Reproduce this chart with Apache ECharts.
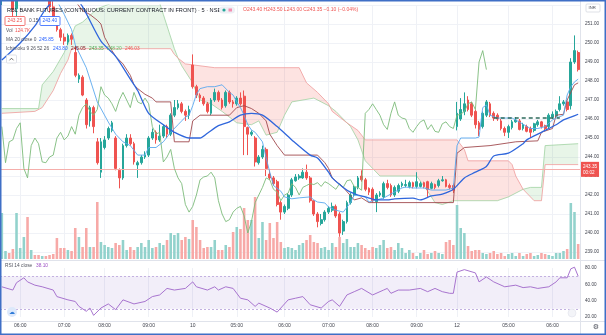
<!DOCTYPE html>
<html><head><meta charset="utf-8">
<script src="https://cdn.jsdelivr.net/npm/echarts@6/dist/echarts.min.js"></script>
<style>html,body{margin:0;padding:0;background:#fff}#c{width:606px;height:335px}</style>
</head><body><div id="c"></div>
<script>
// ---------- data ----------
const opens = [252.6,253.0,253.4,252.6,251.8,252.4,253.0,253.6,253.4,253.8,
253.5,253.0,253.2,252.5,251.9,251.2,250.7,250.3,250.05,250.4,
249.5,248.1,248.2,247.0,245.9,246.6,244.8,243.2,244.5,245.0,
245.4,245.0,243.3,242.9,244.6,245.0,244.7,243.58,243.7,244.0,
244.1,245.0,245.3,244.9,245.1,245.6,245.2,246.2,246.6,246.8,
246.4,246.2,248.84,247.7,247.26,247.1,246.8,246.3,247.0,247.4,
247.0,246.7,247.4,246.9,246.8,247.1,247.2,245.55,245.2,245.0,
243.7,244.0,244.4,243.1,242.9,242.7,241.6,241.1,241.3,242.0,
242.75,242.9,242.9,243.2,242.9,241.7,241.0,240.5,240.7,241.1,
241.2,241.4,241.0,240.1,240.6,241.6,242.0,242.4,243.0,242.8,
242.35,242.3,241.65,242.0,241.9,242.6,242.5,242.0,242.2,242.5,
242.5,242.45,242.65,242.45,242.45,242.65,242.7,242.35,242.55,242.5,
242.75,242.8,242.5,242.5,245.6,246.0,246.4,247.0,246.8,246.4,
245.8,245.6,246.2,246.8,246.3,246.2,245.9,245.5,245.3,245.55,
245.85,245.9,245.5,245.6,245.5,245.4,245.7,245.85,245.65,245.6,
246.1,246.15,246.5,246.8,246.9,246.7,249.0,249.5];
const closes = [253.0,253.4,252.6,251.8,252.4,253.0,253.6,253.4,253.8,253.5,
253.0,253.2,252.5,251.9,251.2,250.7,250.3,250.1,250.4,250.2,
248.3,248.3,247.26,245.7,246.6,245.6,243.7,244.8,244.9,245.5,
245.8,243.4,242.9,244.6,245.0,244.7,243.74,243.7,244.0,244.1,
245.0,245.3,244.9,245.1,245.6,245.2,246.2,246.6,246.8,246.4,
246.2,246.5,247.7,247.26,247.1,246.8,246.4,247.0,247.4,247.0,
246.6,247.4,246.9,246.8,247.1,246.8,245.6,245.2,245.3,243.74,
244.0,244.4,243.4,242.9,242.6,241.5,241.1,241.4,242.0,242.8,
242.95,243.0,243.2,242.9,241.7,241.0,240.6,240.7,241.1,241.3,
241.4,240.9,240.0,240.6,241.6,242.0,242.4,242.9,242.8,242.3,
242.15,241.7,242.0,242.1,242.6,242.4,242.0,242.4,242.5,242.6,
242.55,242.65,242.45,242.7,242.6,242.45,242.3,242.6,242.4,242.75,
242.8,242.45,242.4,242.25,246.3,246.5,246.8,246.5,246.2,245.7,
245.45,246.3,246.9,246.2,246.05,246.0,245.5,245.3,245.6,245.85,
245.95,245.45,245.7,245.35,245.3,245.75,245.85,245.6,245.5,246.2,
246.25,246.4,246.8,246.9,246.5,249.0,249.6,248.6];
const highs = [253.2,253.6,253.5,252.8,252.6,253.2,253.8,254.0,253.9,254.2,
253.7,253.4,253.3,252.7,252.2,251.4,250.8,250.5,250.5,250.5,
249.8,248.4,248.3,247.1,246.7,246.7,245.0,245.0,245.1,245.6,
245.9,245.1,243.4,244.7,245.2,245.2,244.8,243.8,244.1,244.3,
245.1,245.5,245.4,245.7,245.7,245.7,246.3,247.0,247.0,246.9,
246.5,246.7,249.4,247.8,247.35,247.2,246.9,247.1,247.6,247.5,
247.1,247.5,247.5,247.0,247.2,247.4,247.5,245.6,245.4,245.1,
244.1,244.6,244.5,243.3,243.0,242.8,241.7,241.5,242.1,242.9,
243.1,243.1,243.4,243.6,243.0,241.7,241.1,241.0,241.2,241.4,
241.6,241.5,241.1,240.7,241.7,242.1,242.5,243.0,243.3,242.9,
242.4,242.4,242.1,242.2,242.7,242.8,242.6,242.5,242.6,242.7,
242.8,242.75,242.7,243.2,242.7,242.7,242.75,242.7,242.6,242.85,
243.0,242.85,242.6,242.6,246.9,247.1,247.4,247.2,246.9,246.5,
245.9,246.4,247.0,246.9,246.4,246.3,246.0,245.6,245.7,245.95,
246.1,246.0,245.8,245.7,245.6,245.8,245.95,245.9,245.7,246.3,
246.4,246.5,247.2,247.0,247.0,249.2,250.4,249.6];
const lows = [252.0,252.6,252.4,251.2,251.4,252.2,252.8,253.2,253.0,253.3,
252.8,252.5,252.3,251.6,251.0,250.6,250.1,249.9,249.9,249.9,
248.2,247.9,247.2,245.5,245.6,245.25,243.6,242.9,244.4,244.9,
245.3,243.3,242.35,242.8,244.5,244.6,243.6,242.9,243.6,243.9,
244.0,244.9,244.7,244.8,245.0,245.0,245.1,246.1,246.5,246.3,
245.9,246.0,247.6,247.1,246.9,246.7,246.3,246.2,246.9,246.9,
246.5,246.6,246.8,246.6,246.7,246.7,244.1,244.1,245.1,243.5,
243.6,243.9,243.0,242.8,242.5,241.4,240.7,241.0,241.2,241.9,
242.7,242.8,242.85,242.8,241.6,240.9,240.3,240.4,240.6,241.0,
241.1,240.8,239.8,239.9,240.5,241.5,241.9,242.3,242.7,242.2,
242.0,241.6,241.1,241.9,241.8,242.3,241.9,241.9,242.1,242.4,
242.4,242.35,242.35,242.35,242.4,242.35,241.9,242.3,242.3,242.4,
242.7,242.4,242.3,242.1,245.4,245.9,246.2,246.4,246.1,245.5,
245.1,245.5,246.1,246.1,245.9,245.9,245.4,245.1,245.0,245.45,
245.8,245.4,245.4,245.3,245.0,245.3,245.6,245.5,245.4,245.5,
246.0,246.1,246.4,246.7,246.4,246.5,248.9,248.5];
const volumes = [46,8,6,10,46,11,22,42,9,4,
4,3,3,4,5,21,11,11,9,8,
31,22,12,31,12,12,57,17,14,12,
11,16,14,19,9,12,9,12,16,12,
19,11,12,16,14,19,26,24,26,19,
22,20,39,32,19,11,12,12,19,9,
9,14,12,27,32,30,51,39,39,62,
21,37,19,36,21,37,17,11,12,11,
9,14,16,19,24,17,16,11,12,9,
16,12,22,16,20,12,12,16,14,11,
9,12,11,14,19,11,12,9,16,11,
6,9,6,3,6,9,5,6,8,6,
5,17,19,14,54,31,26,13,8,9,
9,6,5,6,8,5,6,3,5,6,
3,6,3,5,6,3,4,6,5,4,
3,6,6,8,10,56,47,15];
// indicator lines: [bar index, value]
const ma20 = [[0,249.1],[5,250.0],[9,250.9],[12,251.8],[16,252.5],[19,252.6],[22,251.9],[27,250.1],[31,249.3],[35,248.1],[37,247.5],[40,246.3],[44,245.7],[47,245.3],[51,245.0],[54,245.0],[56,245.25],[59,245.65],[62,245.85],[65,246.2],[68,246.3],[71,246.2],[75,245.6],[79,244.9],[84,244.1],[86,243.95],[89,243.2],[90,242.9],[93,242.4],[95,242.15],[97,242.0],[99,241.9],[102,241.75],[105,241.74],[107,241.8],[112,241.84],[114,241.74],[117,241.95],[120,242.05],[123,242.3],[126,242.9],[129,243.2],[132,243.5],[134,244.05],[138,244.2],[142,244.7],[143,244.9],[147,245.3],[151,245.7],[153,245.95],[155,246.1],[157,246.25]];
const conversion = [[14,252.6],[17,251.5],[19,250.7],[20,249.9],[23,248.7],[26,246.9],[29,245.84],[31,245.2],[33,244.8],[35,244.6],[37,244.1],[39,244.1],[40,244.5],[42,244.5],[44,244.8],[46,245.3],[48,245.7],[50,246.1],[51,246.2],[52,246.7],[53,247.3],[54,247.6],[56,247.7],[58,247.7],[60,247.8],[62,247.4],[63,247.26],[64,246.9],[65,246.6],[66,246.2],[67,245.7],[68,245.42],[69,245.3],[71,244.8],[72,243.95],[73,243.2],[74,242.5],[76,242.2],[77,241.9],[79,241.8],[81,241.85],[84,241.9],[85,241.74],[86,241.63],[88,241.58],[89,241.37],[91,241.2],[93,241.1],[95,241.6],[96,242.0],[99,241.9],[100,241.63],[102,241.74],[104,241.84],[107,242.16],[109,242.37],[110,242.42],[112,242.37],[115,242.37],[117,242.26],[121,242.26],[123,242.37],[124,244.6],[125,245.0],[129,245.0],[130,245.05],[131,246.6],[132,246.74],[133,246.2],[135,246.05],[139,246.05],[140,245.95],[144,245.5],[146,245.5],[148,245.6],[150,245.95],[151,246.05],[153,246.2],[154,247.26],[155,247.7],[156,247.95],[157,248.1]];
const baseLine = [[17,252.6],[20,252.2],[22,251.7],[24,251.5],[26,251.2],[27,251.0],[28,250.3],[30,249.6],[31,249.3],[33,248.9],[35,248.3],[36,247.8],[37,247.6],[39,247.3],[41,247.1],[42,246.9],[46,246.9],[47,244.8],[51,244.8],[52,245.9],[54,246.2],[62,246.2],[64,246.6],[66,246.7],[68,246.55],[70,246.3],[72,245.9],[73,245.2],[75,244.6],[77,244.1],[86,244.1],[88,243.7],[89,243.4],[90,242.9],[93,242.4],[96,241.74],[98,241.85],[100,241.6],[123,241.6],[124,244.2],[126,244.5],[133,244.6],[140,244.8],[146,244.85],[147,245.3],[150,245.5],[151,246.2],[153,246.25],[154,247.0],[156,247.8],[157,247.9]];
const leadA = [[0,246.55],[5,246.55],[10,246.55],[11,247.8],[14,248.5],[17,249.5],[19,250.4],[20,250.9],[22,251.1],[26,251.8],[30,252.1],[43,252.1],[44,251.5],[47,249.7],[48,249.2],[49,248.8],[52,247.9],[53,247.4],[54,247.0],[57,246.8],[60,246.4],[64,245.8],[68,245.7],[70,245.9],[72,245.15],[75,245.3],[77,246.2],[79,246.9],[85,247.1],[87,246.9],[89,246.7],[91,246.4],[93,246.0],[95,245.6],[97,244.9],[99,243.8],[101,243.4],[103,243.0],[113,243.0],[116,242.2],[118,241.6],[120,241.5],[123,241.7],[135,241.7],[138,241.9],[142,242.3],[144,242.4],[147,242.4],[148,244.6],[157,244.7]];
const leadB = [[0,246.3],[9,246.4],[11,246.6],[14,247.5],[16,248.4],[18,249.1],[19,249.7],[46,249.7],[47,249.4],[48,249.2],[50,248.9],[54,248.8],[58,248.7],[81,248.7],[83,247.9],[86,247.4],[89,246.8],[90,246.4],[94,245.8],[97,245.4],[99,244.9],[124,244.9],[126,244.4],[127,243.8],[138,243.8],[139,243.6],[140,243.0],[142,242.3],[145,241.7],[147,241.7],[148,243.6],[157,243.6]];
const cloudSpans = [[0,48,'up'],[48,142,'down'],[142,157,'up']];
const laggingShift = 25;
const dashedLevel = [[134,246.05],[152,246.05]];
const rsi = [[0,57],[3,53],[4,62],[6,68],[7,63],[9,59],[11,57],[14,53],[15,45],[18,41],[20,39],[21,33],[23,27],[24,31],[25,22],[27,31],[29,36],[31,29],[33,41],[36,36],[39,39],[41,45],[43,47],[45,55],[47,53],[50,55],[52,63],[53,57],[56,53],[58,57],[59,53],[61,57],[63,55],[65,43],[67,41],[69,33],[70,37],[73,31],[75,26],[78,41],[80,43],[82,45],[84,35],[87,31],[89,39],[90,41],[92,33],[94,47],[96,51],[98,55],[101,47],[104,53],[105,55],[106,49],[108,53],[111,53],[114,55],[116,51],[118,55],[120,51],[122,49],[123,49],[124,75],[126,78],[129,74],[130,63],[132,69],[134,63],[137,57],[140,59],[142,56],[144,57],[146,55],[149,57],[151,63],[152,68],[154,68],[155,79],[156,81],[157,70]];
const timeLabels = [[5,'06:00'],[17,'07:00'],[28,'08:00'],[40,'09:00'],[52,'10'],[64,'05:00'],[77,'06:00'],[89,'07:00'],[101,'08:00'],[113,'09:00'],[124,'12'],[138,'05:00'],[150,'06:00']];
const lastPrice = 248.60;
const cursorPrice = 243.35;
const rsiBand = [30,70];

// ---------- chart ----------
const FONT = '"Liberation Sans", Arial, sans-serif';
const UP = '#26a69a', DOWN = '#ef5350';
const N = closes.length;
const cats = closes.map((_, i) => String(i));
const labelMap = {};
timeLabels.forEach(([i, t]) => { labelMap[i] = t; });
const isLabel = (i) => labelMap[i] !== undefined;
const lagging = cats.map((_, i) => (i + laggingShift < N ? closes[i + laggingShift] : '-'));

const chart = echarts.init(document.getElementById('c'), null, {renderer: 'canvas'});
const txt = (x, y, text, size, fill, extra) => Object.assign({
  type: 'text', x: x, y: y, silent: true, z: 50,
  style: {text: text, font: size + 'px ' + FONT, fill: fill, verticalAlign: 'middle', align: 'left'}
}, extra || {});

const option = {
  animation: false,
  backgroundColor: '#ffffff',
  grid: [
    {left: 0, right: 26, top: 5, height: 247},
    {left: 0, right: 26, top: 8, height: 251},
    {left: 0, right: 26, top: 268, height: 49}
  ],
  xAxis: [
    {type: 'category', gridIndex: 0, data: cats, boundaryGap: true,
     axisLine: {show: false}, axisTick: {show: false}, axisLabel: {show: false},
     splitLine: {show: true, interval: (i) => isLabel(i), alignWithLabel: true, lineStyle: {color: '#eff1f6', width: 1}}},
    {type: 'category', gridIndex: 1, data: cats, show: false},
    {type: 'category', gridIndex: 2, data: cats, boundaryGap: true,
     axisLine: {show: false}, axisTick: {show: false},
     axisLabel: {interval: (i) => isLabel(i), formatter: (v, i) => labelMap[i] || '', fontSize: 5, color: '#3c3f4a', margin: 6, fontFamily: FONT},
     splitLine: {show: true, interval: (i) => isLabel(i), alignWithLabel: true, lineStyle: {color: '#eff1f6', width: 1}}}
  ],
  yAxis: [
    {type: 'value', gridIndex: 0, position: 'right', min: 239, max: 252, interval: 1,
     axisLine: {show: false}, axisTick: {show: false},
     axisLabel: {fontSize: 4.6, color: '#3c3f4a', margin: 5, fontFamily: FONT, formatter: (v) => (v >= 252 ? '' : v.toFixed(2))},
     splitLine: {lineStyle: {color: '#f0f2f7', width: 1}}},
    {type: 'value', gridIndex: 1, min: 0, max: 251, show: false},
    {type: 'value', gridIndex: 2, position: 'right', min: 20, max: 80, interval: 20,
     axisLine: {show: false}, axisTick: {show: false},
     axisLabel: {fontSize: 4.6, color: '#3c3f4a', margin: 5, fontFamily: FONT, formatter: (v) => v.toFixed(2)},
     splitLine: {show: false}}
  ],
  series: [
    {type: 'custom', xAxisIndex: 0, yAxisIndex: 0, z: 1, silent: true,
     data: cloudSpans.map((s) => [s[0], 245]), encode: {x: 0, y: 1},
     renderItem: function (params, api) {
       const s = cloudSpans[params.dataIndex];
       const a = s[0], b = s[1];
       const cs = params.coordSys;
       const top = leadA.filter((p) => p[0] >= a && p[0] <= b).map((p) => api.coord(p));
       const bot = leadB.filter((p) => p[0] >= a && p[0] <= b).map((p) => api.coord(p)).reverse();
       const pts = top.concat(bot).map((q) => [q[0], Math.max(cs.y, Math.min(cs.y + cs.height, q[1]))]);
       return {type: 'polygon', shape: {points: pts},
               style: {fill: s[2] === 'up' ? 'rgba(76,175,80,0.13)' : 'rgba(244,67,54,0.15)'}};
     }},
    {type: 'bar', xAxisIndex: 1, yAxisIndex: 1, z: 2, silent: true, barWidth: '70%',
     data: volumes.map((v, i) => ({value: v, itemStyle: {color: closes[i] >= opens[i] ? '#92d2cc' : '#f7a9a7'}}))},
    {type: 'line', xAxisIndex: 0, yAxisIndex: 0, z: 3, silent: true, symbol: 'none', data: leadA,
     lineStyle: {color: '#9fd2a1', width: 0.8}},
    {type: 'line', xAxisIndex: 0, yAxisIndex: 0, z: 3, silent: true, symbol: 'none', data: leadB,
     lineStyle: {color: '#ef9a9a', width: 0.8}},
    {type: 'candlestick', xAxisIndex: 0, yAxisIndex: 0, z: 4, silent: true, barWidth: '62%',
     data: cats.map((_, i) => [opens[i], closes[i], lows[i], highs[i]]),
     itemStyle: {color: UP, color0: DOWN, borderColor: UP, borderColor0: DOWN, borderWidth: 1}},
    {type: 'line', xAxisIndex: 0, yAxisIndex: 0, z: 5, silent: true, symbol: 'none', data: lagging,
     lineStyle: {color: '#7dbb7b', width: 0.9}},
    {type: 'line', xAxisIndex: 0, yAxisIndex: 0, z: 5, silent: true, symbol: 'none', data: baseLine,
     lineStyle: {color: '#a04a4e', width: 0.9}},
    {type: 'line', xAxisIndex: 0, yAxisIndex: 0, z: 5, silent: true, symbol: 'none', data: conversion,
     lineStyle: {color: '#5aa8ee', width: 0.9}},
    {type: 'line', xAxisIndex: 0, yAxisIndex: 0, z: 6, silent: true, symbol: 'none', smooth: 0.25, data: ma20,
     lineStyle: {color: '#2f66dc', width: 1.3}},
    {type: 'line', xAxisIndex: 0, yAxisIndex: 0, z: 7, silent: true, symbol: 'none', clip: false, data: dashedLevel,
     lineStyle: {color: '#2e6b5c', width: 1.5, type: [4, 3]},
     markLine: {symbol: 'none', silent: true, animation: false, data: [
       {yAxis: cursorPrice, lineStyle: {color: '#f5aeab', width: 1, type: 'solid'},
        label: {show: true, position: 'end', formatter: cursorPrice.toFixed(2) + '\n00:02', backgroundColor: DOWN, color: '#fff',
                fontSize: 4.6, lineHeight: 6, padding: [1.5, 2, 1.5, 2], distance: 1, fontFamily: FONT}},
       {yAxis: lastPrice, lineStyle: {opacity: 0},
        label: {show: true, position: 'end', formatter: lastPrice.toFixed(2), backgroundColor: DOWN, color: '#fff',
                fontSize: 4.6, padding: [2, 2, 1.5, 2], distance: 1, fontFamily: FONT}}
     ]}},
    {type: 'line', xAxisIndex: 2, yAxisIndex: 2, z: 5, silent: true, symbol: 'none', clip: false, data: rsi,
     lineStyle: {color: '#a874cf', width: 1},
     markArea: {silent: true, itemStyle: {color: 'rgba(126,87,194,0.1)'}, data: [[{yAxis: rsiBand[0]}, {yAxis: rsiBand[1]}]]},
     markLine: {symbol: 'none', silent: true, label: {show: false}, lineStyle: {color: '#c3b1e0', width: 1, type: [2, 2]},
                data: [{yAxis: rsiBand[1]}, {yAxis: rsiBand[0]}]}}
  ],
  graphic: [
    {type: 'line', silent: true, z: 40, shape: {x1: 0, y1: 260.5, x2: 606, y2: 260.5}, style: {stroke: '#e0e3eb', lineWidth: 1}},
    {type: 'line', silent: true, z: 40, shape: {x1: 0, y1: 321.5, x2: 606, y2: 321.5}, style: {stroke: '#e0e3eb', lineWidth: 1}},
    {type: 'line', silent: true, z: 40, shape: {x1: 580.5, y1: 0, x2: 580.5, y2: 335}, style: {stroke: '#e0e3eb', lineWidth: 1}},
    txt(7, 10, 'RBL BANK FUTURES (CONTINUOUS: CURRENT CONTRACT IN FRONT) · 5 · NSE', 5.6, '#131722'),
    {type: 'rect', silent: true, z: 50, shape: {x: 219, y: 6.5, width: 16, height: 7, r: 3.5}, style: {fill: '#eef0f5'}},
    {type: 'circle', silent: true, z: 51, shape: {cx: 224, cy: 10, r: 1.6}, style: {fill: UP}},
    {type: 'rect', silent: true, z: 51, shape: {x: 228.5, y: 8.5, width: 3.5, height: 3}, style: {fill: '#f48fb1'}},
    txt(243, 10, 'O243.40 H243.50 L243.00 C243.35 −0.10 (−0.04%)', 5, DOWN),
    {type: 'rect', silent: true, z: 50, shape: {x: 5, y: 16.5, width: 20, height: 9, r: 1}, style: {fill: '#fff', stroke: DOWN, lineWidth: 0.8}},
    txt(7.5, 21, '243.25', 4.8, DOWN),
    txt(29, 21, '0.15', 4.8, '#50535e'),
    {type: 'rect', silent: true, z: 50, shape: {x: 40, y: 16.5, width: 20, height: 9, r: 1}, style: {fill: '#fff', stroke: '#2962ff', lineWidth: 0.8}},
    txt(42.5, 21, '243.40', 4.8, '#2962ff'),
    txt(6, 30.5, 'Vol', 4.8, '#50535e'),
    txt(15, 30.5, '124.7K', 4.8, DOWN),
    txt(6, 40, 'MA 20 close 0', 4.8, '#50535e'),
    txt(39, 40, '245.85', 4.8, '#2962ff'),
    txt(6, 49, 'Ichimoku 9 26 52 26', 4.8, '#50535e'),
    txt(53, 49, '243.80', 4.8, '#2962ff'),
    txt(71, 49, '245.05', 4.8, '#801922'),
    txt(89, 49, '243.35', 4.8, '#43a047'),
    txt(107, 49, '248.20', 4.8, '#66bb6a'),
    txt(125, 49, '246.03', 4.8, '#ef5350'),
    {type: 'rect', silent: true, z: 50, shape: {x: 6.5, y: 55, width: 10, height: 8, r: 1}, style: {fill: '#fff', stroke: '#d1d4dc', lineWidth: 0.7}},
    {type: 'polyline', silent: true, z: 51, shape: {points: [[9.5, 60.3], [11.5, 58.2], [13.5, 60.3]]}, style: {stroke: '#333', lineWidth: 0.7, fill: 'none'}},
    txt(5, 266, 'RSI 14 close', 4.8, '#50535e'),
    txt(36, 266, '38.10', 4.8, '#9c4fc4'),
    {type: 'rect', silent: true, z: 50, shape: {x: 586, y: 4, width: 14, height: 8, r: 1}, style: {fill: '#fff', stroke: '#d1d4dc', lineWidth: 0.7}},
    txt(588.5, 8, 'INR', 4.2, '#50535e'),
    {type: 'circle', silent: true, z: 50, shape: {cx: 12, cy: 312, r: 5}, style: {fill: '#dde9fb'}},
    {type: 'text', silent: true, z: 51, x: 12, y: 312, style: {text: '☁', font: '6px "DejaVu Sans"', fill: '#2f7bd8', align: 'center', verticalAlign: 'middle'}},
    {type: 'circle', silent: true, z: 50, shape: {cx: 572, cy: 313, r: 4}, style: {fill: '#f3f4f8', stroke: '#e0e3eb', lineWidth: 0.6}},
    {type: 'text', silent: true, z: 51, x: 596, y: 327.5, style: {text: '⚙', font: '7px "DejaVu Sans"', fill: '#50535e', align: 'center', verticalAlign: 'middle'}},
    {type: 'rect', silent: true, z: 60, shape: {x: 0.75, y: 0.75, width: 604.5, height: 333.5}, style: {fill: 'none', stroke: '#3f6fc6', lineWidth: 1.5}}
  ]
};
chart.setOption(option);
</script>
</body></html>
